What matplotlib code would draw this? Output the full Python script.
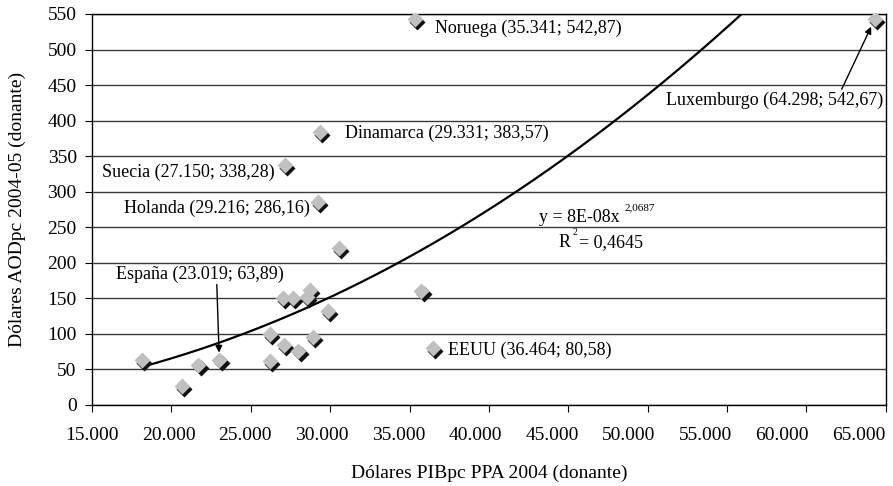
import numpy as np
import matplotlib.pyplot as plt
import matplotlib.transforms as mtransforms
from matplotlib.ticker import MultipleLocator

plt.rcParams['font.family'] = ['Liberation Serif', 'DejaVu Serif']

# PIBpc PPA 2004 (x) vs AODpc 2004-05 (y), one point per donor
gdp = [18150, 20650, 21700, 23019, 26200, 26200, 27000, 27075, 27650,
       28000, 28520, 28710, 28900, 29840, 30530, 35750,
       35341, 64298, 29331, 27150, 29216, 36464]
aod = [63, 27, 56, 63.89, 62, 100, 150, 84, 150,
       76, 152, 162, 96, 132, 221, 160,
       542.87, 542.67, 383.57, 338.28, 286.16, 80.58]

# labelled donors: name, x, y
labels = [('Noruega (35.341; 542,87)', 35341, 542.87),
          ('Dinamarca (29.331; 383,57)', 29331, 383.57),
          ('Suecia (27.150; 338,28)', 27150, 338.28),
          ('Holanda (29.216; 286,16)', 29216, 286.16),
          ('EEUU (36.464; 80,58)', 36464, 80.58),
          ('Luxemburgo (64.298; 542,67)', 64298, 542.67),
          ('España (23.019; 63,89)', 23019, 63.89)]

x_ticks = list(range(15000, 65001, 5000))

# power trend line y = a * x^b
fit_a, fit_b = 8.3e-08, 2.0687
eq_text = 'y = 8E-08x'
eq_exp = '2,0687'
r2_text = '0,4645'

fig = plt.figure(figsize=(8.93, 4.86), dpi=100)
ax = fig.add_axes([0.103, 0.1667, 0.889, 0.8045])

ax.set_xlim(15000, 65000)
ax.set_ylim(0, 550)
ax.set_xticks(x_ticks)
ax.set_xticklabels([])
ax.yaxis.set_major_locator(MultipleLocator(50))
ax.tick_params(labelsize=14, direction='out', length=5, color='black', pad=6)
ax.yaxis.grid(True, color='#3a3a3a', lw=1)
ax.set_axisbelow(True)
for s in ax.spines.values():
    s.set_color('black')
    s.set_linewidth(1)

# x tick labels, drawn a little tighter than the ticks like in the original
for i, v in enumerate(x_ticks):
    tr = mtransforms.offset_copy(ax.get_xaxis_transform(), fig=fig,
                                 x=-2.7 * i, y=-22, units='dots')
    ax.text(v, 0, f'{v:,}'.replace(',', '.'), transform=tr, fontsize=14,
            ha='center', va='top')

# trend line
xs = np.linspace(min(gdp), max(gdp), 400)
ax.plot(xs, fit_a * xs ** fit_b, color='black', lw=1.6, zorder=3)

# 3D-ish diamonds: dark shadow then light face
shadow = mtransforms.offset_copy(ax.transData, fig=fig, x=2.5, y=-3, units='dots')
ax.plot(gdp, aod, 'D', ms=8.5, color='#111111', mec='none', transform=shadow, zorder=4)
ax.plot(gdp, aod, 'D', ms=8.5, color='#c0c0c0', mec='none', zorder=5)

fs = 13
offsets = {'Noruega': (20, -9, 'left'),
           'Dinamarca': (25, -1, 'left'),
           'Suecia': (-10, -8, 'right'),
           'Holanda': (-8, -7, 'right'),
           'EEUU': (15, -3, 'left'),
           'Luxemburgo': (9, -81, 'right'),
           'España': (-19, 85, 'center')}
for name, x, y in labels:
    dx, dy, ha = offsets[name.split()[0]]
    ax.annotate(name, (x, y), xytext=(dx, dy), textcoords='offset pixels',
                ha=ha, va='center', fontsize=fs, annotation_clip=False, zorder=6)

# arrows for Luxemburgo and España
ax.annotate('', (64298, 542.67), xytext=(-33, -70), textcoords='offset pixels',
            arrowprops=dict(arrowstyle='-|>', color='black', lw=1, mutation_scale=10,
                            shrinkA=0, shrinkB=6))
ax.annotate('', (23019, 63.89), xytext=(-2.5, 75), textcoords='offset pixels',
            arrowprops=dict(arrowstyle='-|>', color='black', lw=1, mutation_scale=10,
                            shrinkA=0, shrinkB=5))

# equation
ax.text(43175, 264, eq_text, fontsize=fs, va='center', ha='left')
ax.text(48520, 278, eq_exp, fontsize=8, va='center', ha='left')
ax.text(44370, 228, 'R', fontsize=fs, va='center', ha='left')
ax.text(45280, 242, '2', fontsize=7, va='center', ha='left')
ax.text(45700, 228, '= ' + r2_text, fontsize=fs, va='center', ha='left')

ax.set_xlabel('Dólares PIBpc PPA 2004 (donante)', fontsize=14, labelpad=32)
ax.set_ylabel('Dólares AODpc 2004-05 (donante)', fontsize=14, labelpad=15)

fig.savefig('out.png', dpi=100)
